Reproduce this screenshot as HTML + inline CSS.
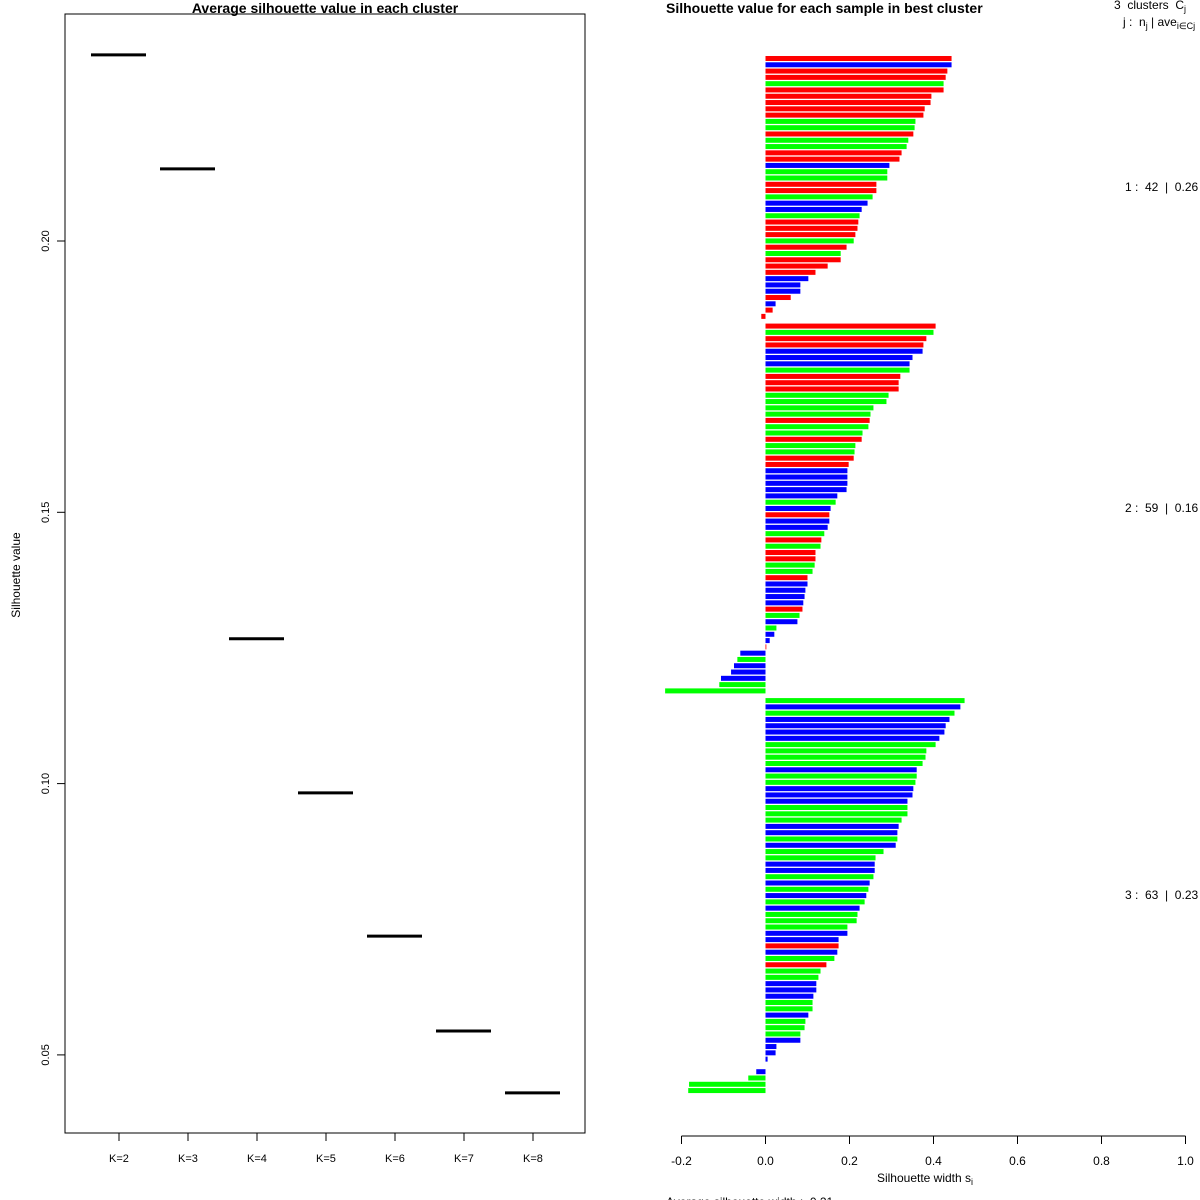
<!DOCTYPE html>
<html><head><meta charset="utf-8"><style>
html,body{margin:0;padding:0;background:#fff;}
svg{display:block;font-family:"Liberation Sans",sans-serif;}
svg text{white-space:pre;}
</style></head><body>
<svg id="chart" width="1200" height="1200" viewBox="0 0 1200 1200">
<rect x="0" y="0" width="1200" height="1200" fill="#fff"/>
<g id="left">
<text x="325" y="13" text-anchor="middle" font-size="14" font-weight="bold">Average silhouette value in each cluster</text>
<rect x="65" y="14" width="520" height="1119" fill="none" stroke="#000" stroke-width="1"/>
<text transform="translate(20,575) rotate(-90)" text-anchor="middle" font-size="12">Silhouette value</text>
</g>
<g id="right">
<text x="666" y="13" font-size="14" font-weight="bold">Silhouette value for each sample in best cluster</text>
<text x="1114" y="9" font-size="12">3  clusters  C<tspan font-size="9" dy="3">j</tspan></text>
<text x="1123" y="26" font-size="12">j :  n<tspan font-size="9" dy="3">j</tspan><tspan dy="-3"> | ave</tspan><tspan font-size="9" dy="3">i∈Cj</tspan><tspan dy="-3">  s</tspan><tspan font-size="9" dy="3">i</tspan></text>
<text x="925" y="1182" text-anchor="middle" font-size="12">Silhouette width s<tspan font-size="9" dy="3">i</tspan></text>
<text x="666" y="1206" font-size="12">Average silhouette width :  0.21</text>
</g>
</svg>
<script>
const kLabels = ["K=2","K=3","K=4","K=5","K=6","K=7","K=8"];
const kValues = [0.2343,0.2133,0.1267,0.0983,0.0719,0.0544,0.0430];
const leftTicks = [0.05,0.10,0.15,0.20];
const leftTickLabels = ["0.05","0.10","0.15","0.20"];

const c1Values = [0.443,0.443,0.433,0.429,0.424,0.424,0.395,0.393,0.379,0.376,0.357,0.355,0.352,0.340,0.336,0.324,0.319,0.295,0.290,0.290,0.264,0.264,0.255,0.243,0.229,0.224,0.221,0.219,0.214,0.210,0.193,0.179,0.179,0.148,0.119,0.102,0.083,0.083,0.060,0.024,0.017,-0.010];
const c1Colors = "rbrrgrrrrrggrggrrbggrrgbbgrrrgrgrrrbbbrbrr";
const c2Values = [0.405,0.400,0.383,0.376,0.374,0.350,0.343,0.343,0.321,0.317,0.317,0.293,0.288,0.257,0.250,0.248,0.245,0.231,0.229,0.214,0.212,0.210,0.198,0.195,0.195,0.195,0.193,0.171,0.167,0.155,0.152,0.152,0.148,0.140,0.133,0.131,0.119,0.119,0.117,0.112,0.100,0.100,0.095,0.093,0.090,0.088,0.081,0.076,0.026,0.021,0.010,0.002,-0.060,-0.067,-0.075,-0.082,-0.106,-0.110,-0.239];
const c2Colors = "rgrrbbbgrrrggggrggrggrrbbbbbgbrbbgrgrrggrbbbbrgbgbbrbgbbbgg";
const c3Values = [0.474,0.464,0.450,0.438,0.429,0.426,0.414,0.405,0.383,0.381,0.374,0.360,0.360,0.357,0.352,0.350,0.338,0.338,0.338,0.324,0.317,0.314,0.314,0.310,0.281,0.262,0.260,0.260,0.257,0.248,0.245,0.240,0.236,0.224,0.219,0.217,0.195,0.195,0.174,0.174,0.171,0.164,0.145,0.131,0.126,0.121,0.121,0.114,0.112,0.112,0.102,0.095,0.093,0.083,0.083,0.026,0.024,0.005,0.000,-0.022,-0.041,-0.182,-0.184];
const c3Colors = "gbgbbbbggggbggbbbgggbbgbggbbgbgbgbgggbbrbgrggbbbggbgggbbbbgbgg";
const clusterLabels = ["1 :  42  |  0.26","2 :  59  |  0.16","3 :  63  |  0.23"];
const xTicks = [-0.2,0,0.2,0.4,0.6,0.8,1.0];
const xTickLabels = ["-0.2","0.0","0.2","0.4","0.6","0.8","1.0"];

(function(){
const NS="http://www.w3.org/2000/svg";
const L=document.getElementById('left');
const R=document.getElementById('right');
function mk(tag,attrs,parent,text){const e=document.createElementNS(NS,tag);for(const k in attrs)e.setAttribute(k,attrs[k]);if(text!==undefined)e.textContent=text;parent.appendChild(e);return e;}
const ly=v=>241+(0.20-v)*5426;
const lx=i=>119+i*69;
for(let i=0;i<kValues.length;i++){
  const s=mk('line',{x1:lx(i)-28,x2:lx(i)+27,y1:ly(kValues[i]),y2:ly(kValues[i]),stroke:'#000','stroke-width':3},L);
  
  
  const t=mk('line',{x1:lx(i),x2:lx(i),y1:1133,y2:1141,stroke:'#000'},L);
  
  
  const lb=mk('text',{x:lx(i),y:1162,'text-anchor':'middle','font-size':11},L,kLabels[i]);
  
  
}
for(let i=0;i<leftTicks.length;i++){
  const y=ly(leftTicks[i]);
  const t=mk('line',{x1:57,x2:65,y1:y,y2:y,stroke:'#000'},L);
  
  
  const lb=mk('text',{transform:'translate(49,'+y+') rotate(-90)','text-anchor':'middle','font-size':11},L,leftTickLabels[i]);
  
  
}
const rx=v=>765.5+v*420;
const pitch=6.29, gapExtra=3.4, barH=5;
const colorMap={r:'#ff0000',g:'#00ff00',b:'#0000ff'};
const clusters=[[c1Values,c1Colors],[c2Values,c2Colors],[c3Values,c3Colors]];
let idx=0;
clusters.forEach((c,ci)=>{
  const vals=c[0], cols=c[1];
  for(let j=0;j<vals.length;j++){
    const y=56+idx*pitch+ci*gapExtra;
    const v=vals[j];
    const x=Math.min(rx(0),rx(v)), w=Math.abs(rx(v)-rx(0));
    const b=mk('rect',{x:x,y:y,width:w,height:barH,fill:colorMap[cols[j]]||'#00ff00'},R);
    
    
    idx++;
  }
});
const lpos=[187,508,895];
clusterLabels.forEach((s,i)=>{
  const t=mk('text',{x:1125,y:lpos[i]+4,'font-size':12},R,s);
  
  
});
const ax=mk('line',{x1:rx(-0.2),x2:rx(1.0),y1:1136,y2:1136,stroke:'#000'},R);


for(let i=0;i<xTicks.length;i++){
  const x=rx(xTicks[i]);
  const t=mk('line',{x1:x,x2:x,y1:1136,y2:1144,stroke:'#000'},R);
  
  
  const lb=mk('text',{x:x,y:1165,'text-anchor':'middle','font-size':12},R,xTickLabels[i]);
  
  
}
})();
</script>
</body></html>
